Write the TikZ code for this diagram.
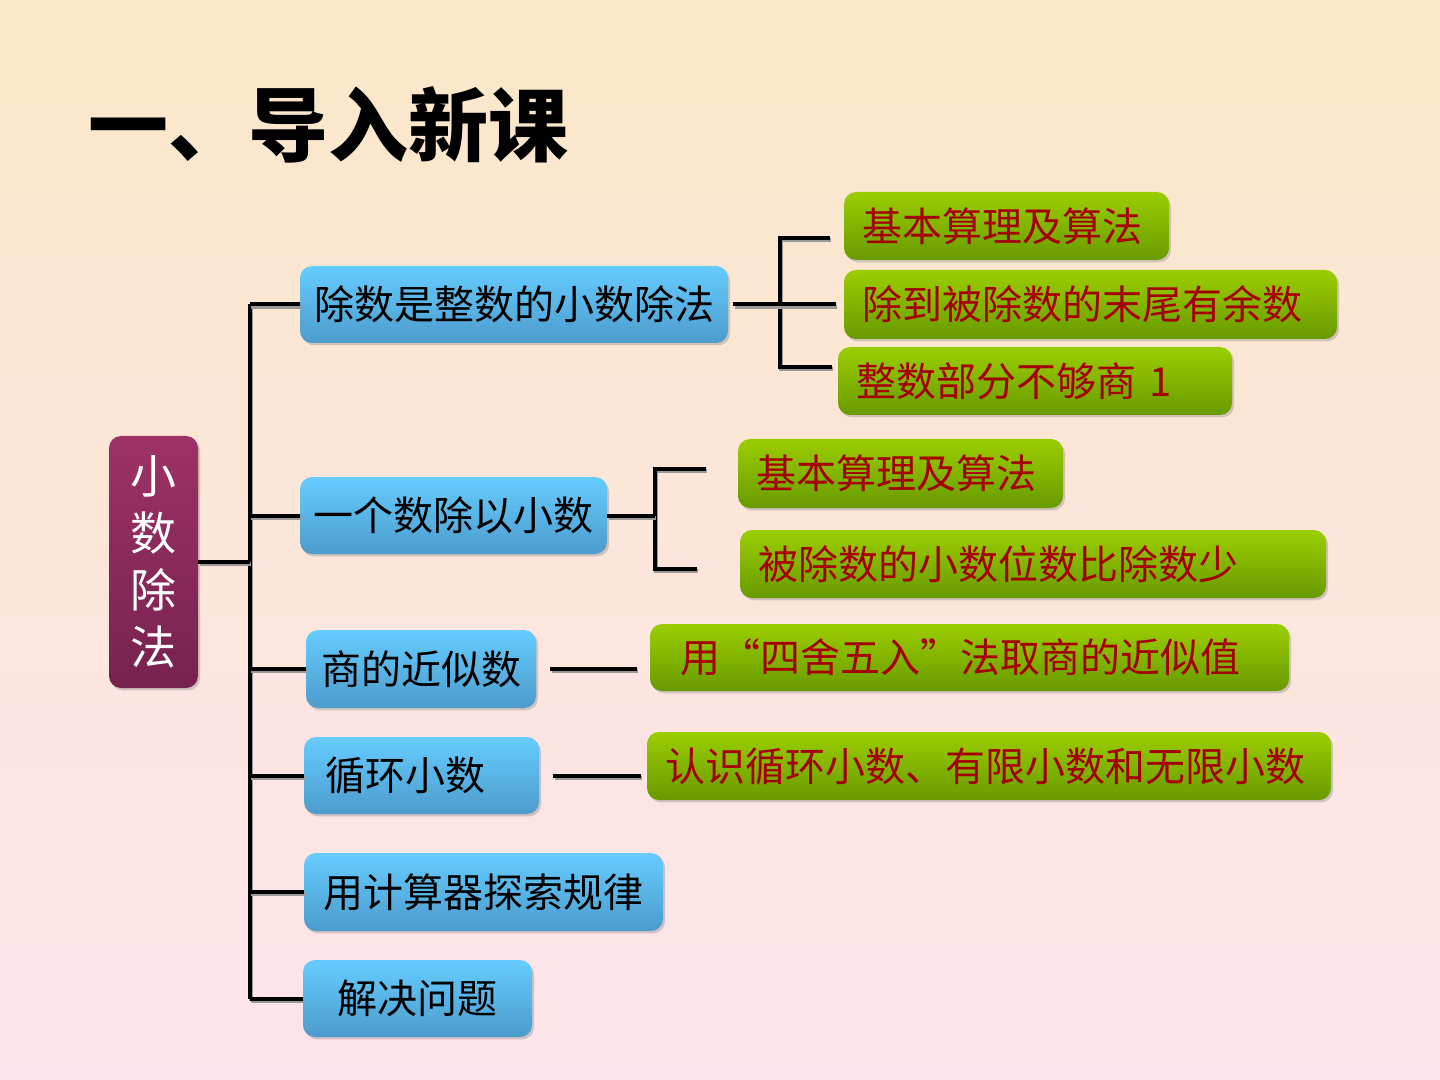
\documentclass[tikz,border=0pt]{standalone}
\usepackage{fontspec}
\setmainfont{Noto Sans CJK SC}
\usetikzlibrary{shadows}
\definecolor{bgtop}{RGB}{251,232,200}
\definecolor{bgbot}{RGB}{252,228,236}
\definecolor{bluetop}{RGB}{102,204,255}
\definecolor{bluebot}{RGB}{76,156,204}
\definecolor{greentop}{RGB}{155,206,0}
\definecolor{greenbot}{RGB}{104,154,0}
\definecolor{redtext}{RGB}{165,0,0}
\definecolor{maroontop}{RGB}{158,50,102}
\definecolor{maroonbot}{RGB}{118,34,78}
\begin{document}
\begin{tikzpicture}[x=0.5pt,y=-0.5pt,
  box/.style={rounded corners=6pt, inner ysep=0pt,
    drop shadow={shadow xshift=1pt, shadow yshift=-1.2pt, opacity=0.35}},
  bluebox/.style={box, top color=bluetop, bottom color=bluebot, inner xsep=0pt,
    font=\fontsize{20pt}{24pt}\selectfont, text=black},
  greenbox/.style={box, top color=greentop, bottom color=greenbot, inner xsep=9pt,
    align=left, font=\fontsize{20pt}{24pt}\selectfont, text=redtext},
  mainbox/.style={box, top color=maroontop, bottom color=maroonbot, inner xsep=0pt,
    align=center, font=\fontsize{23pt}{28.5pt}\selectfont, text=white},
  conn/.style={line width=2pt, black,
    preaction={draw=black!40, line width=2pt, transform canvas={xshift=0.6pt,yshift=-1.2pt}}},
  titletext/.style={font=\fontsize{40pt}{44pt}\selectfont\bfseries, inner sep=0pt, anchor=west}
]
\useasboundingbox (0,0) rectangle (1440,1080);
\fill[top color=bgtop, bottom color=bgbot] (0,0) rectangle (1440,1080);

% title
\node[titletext, text=black] (title) at (88,125) {一、导入新课};

% main box
\node[mainbox, minimum width=44.5pt, minimum height=126pt] (main) at (153.5,562) {小\\数\\除\\法};

% blue boxes
\node[bluebox, minimum width=214pt, minimum height=38.5pt] (b1) at (514,304.5) {除数是整数的小数除法};
\node[bluebox, minimum width=153.5pt, minimum height=38.5pt] (b2) at (453.5,515.5) {一个数除以小数};
\node[bluebox, minimum width=115pt, minimum height=39pt] (b3) at (421,669) {商的近似数};
\node[bluebox, minimum width=117.5pt, minimum height=38.5pt] (b4) at (421.5,775.5) {循环小数\kern16pt};
\node[bluebox, minimum width=179.5pt, minimum height=39pt] (b5) at (483.5,892) {用计算器探索规律};
\node[bluebox, minimum width=114.5pt, minimum height=38.5pt] (b6) at (417.5,998.5) {解决问题};

% green boxes
\node[greenbox, text width=144.5pt, minimum height=34pt] (g1) at (1006.5,226) {基本算理及算法};
\node[greenbox, text width=228.5pt, minimum height=34.5pt] (g2) at (1090.5,304.5) {除到被除数的末尾有余数};
\node[greenbox, text width=179pt, minimum height=34pt] (g3) at (1035,381) {整数部分不够商~1};
\node[greenbox, text width=144.5pt, minimum height=34.5pt] (g4) at (900.5,473.5) {基本算理及算法};
\node[greenbox, text width=275pt, minimum height=34pt] (g5) at (1033,564) {被除数的小数位数比除数少};
\node[greenbox, text width=301.5pt, minimum height=33.5pt] (g6) at (969.5,657.5) {\hspace{6pt}用“四舍五入”法取商的近似值};
\node[greenbox, text width=324pt, minimum height=34pt] (g7) at (989,766) {认识循环小数、有限小数和无限小数};

% trunk
\coordinate (tr) at (250,0);
\draw[conn] (tr |- b1.west) -- (tr |- b6.west);
\draw[conn] (main.east) -- (main.east -| tr);
\foreach \b in {b1,b2,b3,b4,b5,b6}{
  \draw[conn] (tr |- \b.west) -- (\b.west);
}

% bracket of b1
\coordinate (k1t) at (780,238);
\coordinate (k1b) at (780,367);
\draw[conn] ([xshift=-7pt]g1.west |- k1t) -- (k1t) -- (k1b) -- ([xshift=-3pt]g3.west |- k1b);
\draw[conn] ([xshift=2.5pt]b1.east) -- ([xshift=-4pt]g2.west |- b1.east);

% bracket of b2
\coordinate (k2t) at (655,469);
\coordinate (k2b) at (655,569);
\draw[conn] ([xshift=-16pt]g4.west |- k2t) -- (k2t) -- (k2b) -- ([xshift=-21.5pt]g5.west |- k2b);
\draw[conn] (b2.east) -- (b2.east -| k2t);

% single connectors
\draw[conn] ([xshift=7pt]b3.east) -- ([xshift=-6.5pt]g6.west |- b3.east);
\draw[conn] ([xshift=7pt]b4.east) -- ([xshift=-3pt]g7.west |- b4.east);
\end{tikzpicture}
\end{document}
